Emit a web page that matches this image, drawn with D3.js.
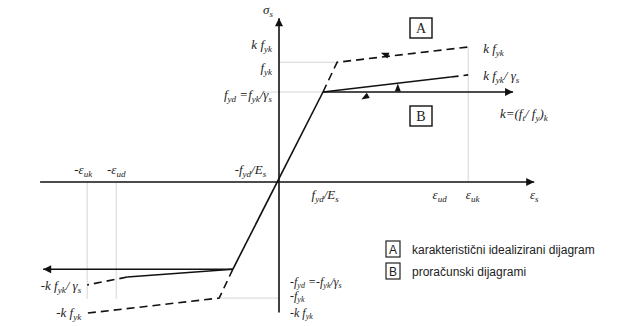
<!DOCTYPE html>
<html>
<head>
<meta charset="utf-8">
<script src="https://cdn.jsdelivr.net/npm/d3@7"></script>
<style>
  body { margin: 0; background: #fff; }
  .leg { font-family: "Liberation Sans", Arial, sans-serif; font-size: 12px; fill: #222; }
</style>
</head>
<body>
<div id="chart"></div>
<script>
// values (strain in units of fyd/Es, stress in units of fyd)
const axisX = [-5.43, 5.8];
const axisY = [-1.45, 1.82];

// elastic branch, solid (both diagrams)
const elastic = [[-1.05, -0.97], [1, 1]];
// A: characteristic idealised diagram (dashed)
const charUpper = [[1, 1], [1.32, 1.33], [4.3, 1.5]];
const charLower = [[-1.05, -0.97], [-1.36, -1.29], [-4.41, -1.46]];
// B: design diagrams, inclined branch (solid then dashed)
const designUpperSolid = [[1, 1], [3.9, 1.166]];
const designUpperDash = [[3.9, 1.166], [4.3, 1.19]];
const designLowerSolid = [[-1.05, -0.97], [-3.45, -1.056]];
const designLowerDash = [[-3.45, -1.056], [-4.36, -1.144]];
// B: horizontal branch with arrows
const designFlat = [[[1, 1], [5.32, 1]], [[-1.05, -0.97], [-5.36, -0.97]]];

// thin gray guide lines
const guides = [
  [[4.3, 0], [4.3, 1.5]],
  [[-4.36, 0], [-4.36, -1.3]],
  [[-3.7, 0], [-3.7, -1.3]],
  [[-0.4, 1], [1, 1]],
  [[0, 1.33], [1.32, 1.33]],
  [[0, -1.29], [-1.36, -1.29]]
];

// little rotation arrows [x, y, angle]
const turnMarks = [[2.4, 1.42, 200], [2.7, 1.05, 270], [1.95, 0.94, 150]];

// tick labels
const yLabelsLeft = [
  { v: 1.52, t: "k f_{yk}" },
  { v: 1.27, t: "f_{yk}" },
  { v: 0.97, t: "f_{yd} =f_{yk}/γ_{s}" }
];
const yLabelsRight = [
  { v: 1.48, t: "k f_{yk}" },
  { v: 1.18, t: "k f_{yk}/ γ_{s}" }
];
const yLabelsNegRight = [
  { v: -1.11, t: "-f_{yd} =-f_{yk}/γ_{s}" },
  { v: -1.27, t: "-f_{yk}" },
  { v: -1.45, t: "-k f_{yk}" }
];
const yLabelsNegLeft = [
  { v: -1.15, t: "-k f_{yk}/ γ_{s}" },
  { v: -1.46, t: "-k f_{yk}" }
];
const xLabelsTop = [
  { v: -4.45, t: "-ε_{uk}" },
  { v: -3.7, t: "-ε_{ud}" },
  { v: -0.65, t: "-f_{yd}/E_{s}" }
];
const xLabelsBottom = [
  { v: 1.05, t: "f_{yd}/E_{s}" },
  { v: 3.65, t: "ε_{ud}" },
  { v: 4.4, t: "ε_{uk}" },
  { v: 5.8, t: "ε_{s}" }
];
const legendItems = [
  { key: "A", text: "karakteristični idealizirani dijagram" },
  { key: "B", text: "proračunski dijagrami" }
];

const W = 632, H = 326;
const serif = "'Liberation Serif', 'Times New Roman', 'DejaVu Serif', serif";
const svg = d3.select("#chart").append("svg").attr("width", W).attr("height", H);

const x = d3.scaleLinear().domain([0, 1]).range([279, 323]);
const y = d3.scaleLinear().domain([0, 1]).range([182, 92]);
const line = d3.line().x(d => x(d[0])).y(d => y(d[1]));

const defs = svg.append("defs");
defs.append("marker").attr("id", "arr")
  .attr("viewBox", "0 0 10 10").attr("refX", 10).attr("refY", 5)
  .attr("markerWidth", 11).attr("markerHeight", 8).attr("markerUnits", "userSpaceOnUse")
  .attr("orient", "auto")
  .append("path").attr("d", "M0,0 L10,5 L0,10 z").attr("fill", "#111");

// guides
svg.selectAll(".guide").data(guides).enter().append("path")
  .attr("d", line).attr("fill", "none")
  .attr("stroke", "#ccc").attr("stroke-width", 0.8);

// axes
svg.append("path").attr("d", line([[axisX[0], 0], [axisX[1], 0]]))
  .attr("stroke", "#111").attr("stroke-width", 1.6).attr("marker-end", "url(#arr)");
svg.append("path").attr("d", line([[0, axisY[0]], [0, axisY[1]]]))
  .attr("stroke", "#111").attr("stroke-width", 1.6).attr("marker-end", "url(#arr)");

// solid lines
[elastic, designUpperSolid, designLowerSolid].forEach(d => {
  svg.append("path").attr("d", line(d)).attr("fill", "none")
    .attr("stroke", "#111").attr("stroke-width", 1.6);
});
designFlat.forEach(d => {
  svg.append("path").attr("d", line(d)).attr("fill", "none")
    .attr("stroke", "#111").attr("stroke-width", 1.6).attr("marker-end", "url(#arr)");
});
// dashed lines
[charUpper, charLower, designUpperDash, designLowerDash].forEach(d => {
  svg.append("path").attr("d", line(d)).attr("fill", "none")
    .attr("stroke", "#111").attr("stroke-width", 1.6).attr("stroke-dasharray", "8,5");
});

// rotation marks
svg.selectAll(".turn").data(turnMarks).enter().append("path")
  .attr("d", "M-4,-3 L4,0 L-4,3 z")
  .attr("transform", d => `translate(${x(d[0])},${y(d[1])}) rotate(${d[2]})`)
  .attr("fill", "#111");

// rich text with subscripts
function rich(sel, str, sub = 9, shift = 3) {
  const re = /_\{([^}]*)\}/g;
  let last = 0, m, shifted = false;
  while ((m = re.exec(str)) !== null) {
    const pre = str.slice(last, m.index);
    if (pre) {
      sel.append("tspan").attr("dy", shifted ? -shift : 0).text(pre);
      shifted = false;
    }
    sel.append("tspan").attr("dy", shifted ? 0 : shift).attr("font-size", sub).text(m[1]);
    shifted = true;
    last = re.lastIndex;
  }
  const rest = str.slice(last);
  if (rest) sel.append("tspan").attr("dy", shifted ? -shift : 0).text(rest);
}

function labels(data, fx, fy, anchor, size = 13) {
  data.forEach(d => {
    const t = svg.append("text")
      .attr("font-family", serif).attr("font-style", "italic")
      .attr("font-size", size).attr("fill", "#222")
      .attr("x", fx(d)).attr("y", fy(d)).attr("text-anchor", anchor);
    rich(t, d.t, size < 13 ? 8 : 9, size < 13 ? 2 : 3);
  });
}

labels(yLabelsLeft, d => x(0) - 7, d => y(d.v) + 4, "end");
labels(yLabelsRight, d => x(4.3) + 15, d => y(d.v) + 4, "start");
labels(yLabelsNegRight, d => x(0) + 11, d => y(d.v) + 4, "start", 12);
labels(yLabelsNegLeft, d => x(-4.36) - 6, d => y(d.v) + 4, "end");
labels(xLabelsTop, d => x(d.v), d => y(0) - 8, "middle");
labels(xLabelsBottom, d => x(d.v), d => y(0) + 17, "middle");
labels([{ t: "σ_{s}" }], () => x(0) - 6, () => 14, "end");
labels([{ t: "k=(f_{t}/ f_{y})_{k}" }], () => 500, () => 118, "start");

// boxed letters on the chart
const boxes = [{ k: "A", cx: 421, cy: 28 }, { k: "B", cx: 421, cy: 116 }];
boxes.forEach(b => {
  svg.append("rect").attr("x", b.cx - 11).attr("y", b.cy - 10).attr("width", 22).attr("height", 20)
    .attr("fill", "#fff").attr("stroke", "#111").attr("stroke-width", 1.4);
  svg.append("text").attr("x", b.cx).attr("y", b.cy + 5).attr("text-anchor", "middle")
    .attr("font-family", serif).attr("font-size", 14).attr("fill", "#222").text(b.k);
});

// legend
const leg = svg.selectAll(".legrow").data(legendItems).enter().append("g")
  .attr("transform", (d, i) => `translate(386, ${241 + i * 22})`);
leg.append("rect").attr("width", 14).attr("height", 16)
  .attr("fill", "#fff").attr("stroke", "#222").attr("stroke-width", 1.2);
leg.append("text").attr("class", "leg").attr("x", 7).attr("y", 12.5)
  .attr("text-anchor", "middle").attr("font-size", 11).text(d => d.key);
leg.append("text").attr("class", "leg").attr("x", 26).attr("y", 12.5).text(d => d.text);
</script>
</body>
</html>
